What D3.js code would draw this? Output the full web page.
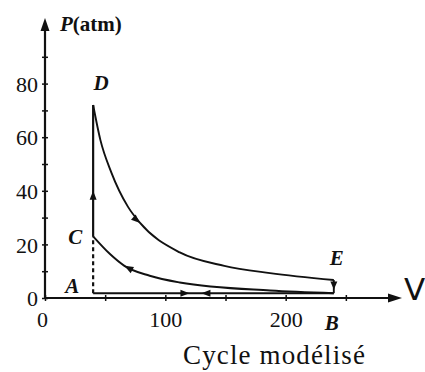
<!DOCTYPE html>
<html>
<head>
<meta charset="utf-8" />
<title>Cycle modélisé</title>
<style>
  body { margin: 0; background: #fff; }
</style>
</head>
<body>
<div id="chart"></div>
<script src="https://d3js.org/d3.v7.min.js"></script>
<script>
(function(d3) {
'use strict';
// values (V in arbitrary units, P in atm)
var upperV = [40, 46, 55, 69, 79, 112, 149, 187, 240];
var upperP = [72, 59, 47, 34, 28, 17, 12, 9.3, 6.7];
var lowerV = [40, 54, 66, 87, 112, 187, 240];
var lowerP = [23, 16.4, 12, 8.3, 5.8, 2.8, 1.8];
var vMin = 40, vMax = 240, pIntake = 1.8;
var yTicks = [0, 10, 20, 30, 40, 50, 60, 70, 80, 90];
var yLabels = [0, 20, 40, 60, 80];
var xTicks = [0, 50, 100, 150, 200, 250];
var xLabels = [0, 100, 200];

var width = 425, height = 372;
var ink = '#111';
var serif = 'Liberation Serif, Times New Roman, serif';

var x = d3.scaleLinear().domain([0, 295]).range([45, 400]);
var y = d3.scaleLinear().domain([0, 100]).range([298, 30]);

var svg = d3.select('#chart').append('svg')
  .attr('width', width).attr('height', height)
  .attr('font-family', serif);

function arrowHead(g, px, py, angle, len, half) {
  g.append('path')
    .attr('d', 'M0,0 L' + (-len) + ',' + (-half) + ' L' + (-len) + ',' + half + 'Z')
    .attr('fill', ink)
    .attr('transform', 'translate(' + px + ',' + py + ') rotate(' + angle + ')');
}

// axes
var yAxis = d3.axisLeft(y).tickValues(yTicks).tickSize(3)
  .tickFormat(function(d) { return yLabels.indexOf(d) >= 0 ? d : ''; });
var gy = svg.append('g').attr('transform', 'translate(' + x(0) + ',0)').call(yAxis)
  .attr('font-family', serif).attr('font-size', 22);
gy.select('.domain').remove();
gy.selectAll('.tick line').attr('x1', -3).attr('x2', 3).attr('stroke', ink).attr('stroke-width', 1.5);
gy.selectAll('.tick text').attr('x', -7).attr('dy', '0.35em').attr('fill', ink);

var xAxis = d3.axisBottom(x).tickValues(xTicks).tickSize(3)
  .tickFormat(function(d) { return xLabels.indexOf(d) >= 0 ? d : ''; });
var gx = svg.append('g').attr('transform', 'translate(0,' + y(0) + ')').call(xAxis)
  .attr('font-family', serif).attr('font-size', 22);
gx.select('.domain').remove();
gx.selectAll('.tick line').attr('y1', -3).attr('y2', 3).attr('stroke', ink).attr('stroke-width', 1.5);
gx.selectAll('.tick text').attr('y', 13).attr('dy', '0.71em').attr('fill', ink);
gx.selectAll('.tick').filter(function(d) { return d === 0; }).select('text').attr('x', -3);

svg.append('line').attr('x1', x(0)).attr('x2', x(0)).attr('y1', y(0) + 1).attr('y2', 28)
  .attr('stroke', ink).attr('stroke-width', 2.2);
arrowHead(svg, x(0), 18, -90, 13, 4.5);
svg.append('line').attr('x1', x(0) - 1).attr('x2', 390).attr('y1', y(0)).attr('y2', y(0))
  .attr('stroke', ink).attr('stroke-width', 2);
arrowHead(svg, 402, y(0), 0, 14, 4.5);

var pLabel = svg.append('text').attr('x', 60).attr('y', 31)
  .attr('font-size', 21).attr('font-weight', 'bold').attr('fill', ink);
pLabel.append('tspan').attr('font-style', 'italic').text('P');
pLabel.append('tspan').text('(atm)');

svg.append('text').attr('x', 404).attr('y', 300).attr('fill', ink)
  .attr('font-family', 'DejaVu Sans, sans-serif').attr('font-size', 31).text('V');

// cycle
var line = d3.line().x(function(d) { return x(d[0]); }).y(function(d) { return y(d[1]); })
  .curve(d3.curveMonotoneX);
var upper = upperV.map(function(v, i) { return [v, upperP[i]]; });
var lower = lowerV.map(function(v, i) { return [v, lowerP[i]]; });

function stroke(sel, w) { return sel.attr('fill', 'none').attr('stroke', ink).attr('stroke-width', w); }

stroke(svg.append('path').attr('d', line(upper)), 1.9);
stroke(svg.append('path').attr('d', line(lower)), 1.9);
// C -> D
stroke(svg.append('line').attr('x1', x(vMin)).attr('x2', x(vMin))
  .attr('y1', y(lowerP[0])).attr('y2', y(upperP[0])), 2.2);
// A -> C dashed
stroke(svg.append('line').attr('x1', x(vMin)).attr('x2', x(vMin))
  .attr('y1', y(pIntake)).attr('y2', y(lowerP[0])), 2.2).attr('stroke-dasharray', '4,3');
// E -> B
stroke(svg.append('line').attr('x1', x(vMax)).attr('x2', x(vMax))
  .attr('y1', y(upperP[upperP.length - 1])).attr('y2', y(pIntake)), 1.9);
// A <-> B
stroke(svg.append('line').attr('x1', x(vMin)).attr('x2', x(vMax))
  .attr('y1', y(pIntake)).attr('y2', y(pIntake)), 1.9);

function tangentArrow(pts, i, reverse) {
  var a = pts[i - 1], b = pts[i + 1];
  var ang = Math.atan2(y(b[1]) - y(a[1]), x(b[0]) - x(a[0])) * 180 / Math.PI;
  if (reverse) ang += 180;
  arrowHead(svg, x(pts[i][0]), y(pts[i][1]), ang, 9, 3.5);
}
tangentArrow(upper, 4, false);
tangentArrow(lower, 2, true);
arrowHead(svg, x(vMin), y(40), -90, 9, 3.5);
arrowHead(svg, x(vMax), y((upperP[upperP.length - 1] + pIntake) / 2) + 3, 90, 8, 3.5);
arrowHead(svg, x(120), y(pIntake), 0, 9, 3.5);
arrowHead(svg, x(130), y(pIntake), 180, 9, 3.5);

// point names
var pts = [
  { name: 'A', v: vMin, p: pIntake, dx: -21, dy: -8 },
  { name: 'B', v: vMax, p: pIntake, dx: -2, dy: 29 },
  { name: 'C', v: vMin, p: lowerP[0], dx: -18, dy: 0 },
  { name: 'D', v: vMin, p: upperP[0], dx: 8, dy: -22 },
  { name: 'E', v: vMax, p: upperP[upperP.length - 1], dx: 3, dy: -22 }
];
svg.selectAll('.pt').data(pts).enter().append('text')
  .attr('x', function(d) { return x(d.v) + d.dx; })
  .attr('y', function(d) { return y(d.p) + d.dy; })
  .attr('text-anchor', 'middle').attr('dy', '0.35em').attr('fill', ink)
  .attr('font-size', 21).attr('font-style', 'italic').attr('font-weight', 'bold')
  .text(function(d) { return d.name; });

svg.append('text').attr('x', 274).attr('y', 364).attr('text-anchor', 'middle').attr('fill', ink)
  .attr('font-size', 27).attr('textLength', 182).text('Cycle modélisé');
})(window.d3);
</script>
</body>
</html>
